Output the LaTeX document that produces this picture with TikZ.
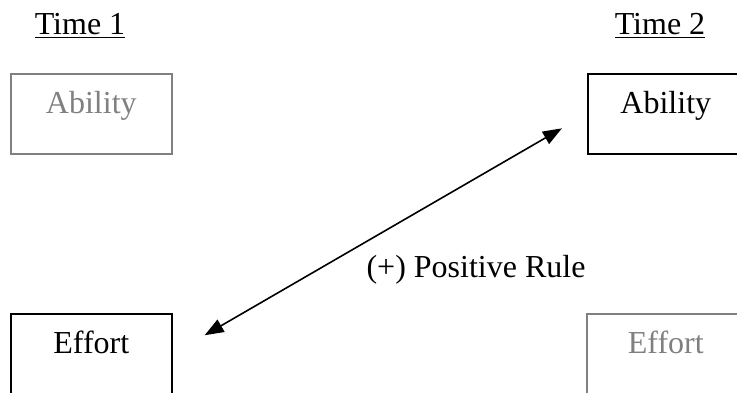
\documentclass[tikz,border=0pt]{standalone}
\usepackage{fontspec}
\setmainfont{Liberation Serif}
\usetikzlibrary{arrows.meta}
\definecolor{dimgray}{HTML}{808080}
\tikzset{
  box/.style={draw, line width=0.8pt, anchor=north west, inner sep=0pt,
    minimum width=80.5pt, minimum height=40pt, text height=20pt, text depth=20pt},
  faded/.style={box, draw=dimgray, text=dimgray},
  link/.style={{Triangle[length=9.5pt,width=7pt]}-{Triangle[length=9.5pt,width=7pt]},
    line width=0.8pt}
}
\begin{document}
\begin{tikzpicture}[x=0.5pt,y=-0.5pt,font=\fontsize{16}{19}\selectfont]
		\useasboundingbox (0,0) rectangle (737,392);
		%Encabezados
		\node[anchor=base] (time1) at (80,34) {\underline{Time 1}};
		\node[anchor=base] (time2) at (660,34) {\underline{Time 2}};
		%Cajas de Time 1
		\node[faded] (abil1) at (10,73) {Ability};
		\node[box] (eff1) at (10,313) {Effort};
		%Cajas de Time 2
		\node[box, minimum width=78pt] (abil2) at (587,73) {Ability};
		\node[faded, minimum width=79pt] (eff2) at (586,313) {Effort};
		%Flecha
		\draw[link, shorten <=18.5pt, shorten >=14.5pt] (eff1.east) -- (abil2.west);
		\node[anchor=base] (rule) at (476,277) {(+) Positive Rule};
	\end{tikzpicture}
\end{document}
